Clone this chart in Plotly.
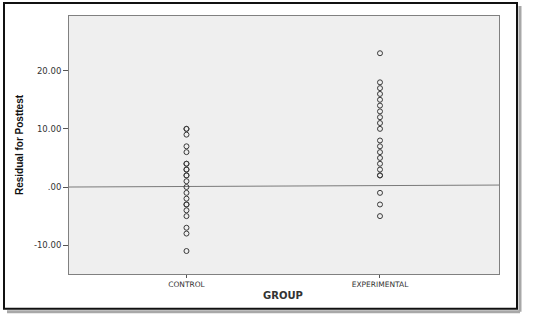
import plotly.graph_objects as go

groups = ["CONTROL", "EXPERIMENTAL"]
control_resid = [10, 10, 9, 7, 6, 4, 4, 3, 3, 2, 2, 1, 0, -1, -2, -3, -3, -4, -5, -7, -8, -11]
experimental_resid = [23, 18, 17, 16, 15, 14, 13, 12, 11, 10, 8, 7, 6, 5, 4, 3, 2, 2, -1, -3, -5]
fit_x = [-0.607, 1.615]
fit_y = [0.0, 0.34]
y_tickvals = [-10, 0, 10, 20]
y_ticktext = ["-10.00", ".00", "10.00", "20.00"]

fig = go.Figure()
fig.add_trace(go.Scatter(x=fit_x, y=fit_y, mode="lines",
                         line=dict(color="#7a7a7a", width=1), hoverinfo="skip"))
fig.add_trace(go.Scatter(x=[0] * len(control_resid), y=control_resid, mode="markers",
                         marker=dict(symbol="circle-open", size=5, color="#3a3a3a",
                                     line=dict(width=1, color="#3a3a3a"))))
fig.add_trace(go.Scatter(x=[1] * len(experimental_resid), y=experimental_resid, mode="markers",
                         marker=dict(symbol="circle-open", size=5, color="#3a3a3a",
                                     line=dict(width=1, color="#3a3a3a"))))

L, R, T, B = 69, 499, 16, 274.3
W, H = R - L, B - T
def px(x):
    return (x - L) / W
def py(y):
    return (B - y) / H

fig.update_layout(
    width=535, height=320,
    margin=dict(l=L, r=535 - R, t=T, b=320 - B),
    paper_bgcolor="white", plot_bgcolor="#efefef",
    showlegend=False,
    xaxis=dict(range=[-0.607, 1.615], tickvals=[0, 1], ticktext=groups,
               showgrid=False, zeroline=False, showline=True, mirror=True,
               linecolor="#808080", linewidth=1, ticks="outside", ticklen=3,
               tickcolor="#555", tickfont=dict(family="DejaVu Sans", size=7.5, color="#333")),
    yaxis=dict(range=[-14.95, 29.4], tickvals=y_tickvals, ticktext=y_ticktext,
               showgrid=False, zeroline=False, showline=True, mirror=True,
               linecolor="#808080", linewidth=1, ticks="outside", ticklen=5,
               tickcolor="#555", tickfont=dict(family="DejaVu Sans", size=8.5, color="#333")),
    annotations=[
        dict(text="<b>Residual for Posttest</b>", xref="paper", yref="paper",
             x=px(19), y=0.5, textangle=-90, showarrow=False,
             xanchor="center", yanchor="middle",
             font=dict(family="Liberation Sans Narrow, Liberation Sans, sans-serif",
                       size=10, color="#111")),
        dict(text="<b>GROUP</b>", xref="paper", yref="paper",
             x=px(283), y=py(295.7), showarrow=False,
             xanchor="center", yanchor="middle",
             font=dict(family="DejaVu Sans", size=10, color="#333")),
    ],
    shapes=[
        dict(type="line", xref="paper", yref="paper", x0=px(7), x1=px(520),
             y0=py(312), y1=py(312), line=dict(color="#a8a8a8", width=3)),
        dict(type="line", xref="paper", yref="paper", x0=px(520), x1=px(520),
             y0=py(6), y1=py(312), line=dict(color="#a8a8a8", width=3)),
        dict(type="rect", xref="paper", yref="paper", x0=px(4), x1=px(517),
             y0=py(309), y1=py(3), line=dict(color="#111", width=2)),
    ],
)
fig.write_html("out.html")
